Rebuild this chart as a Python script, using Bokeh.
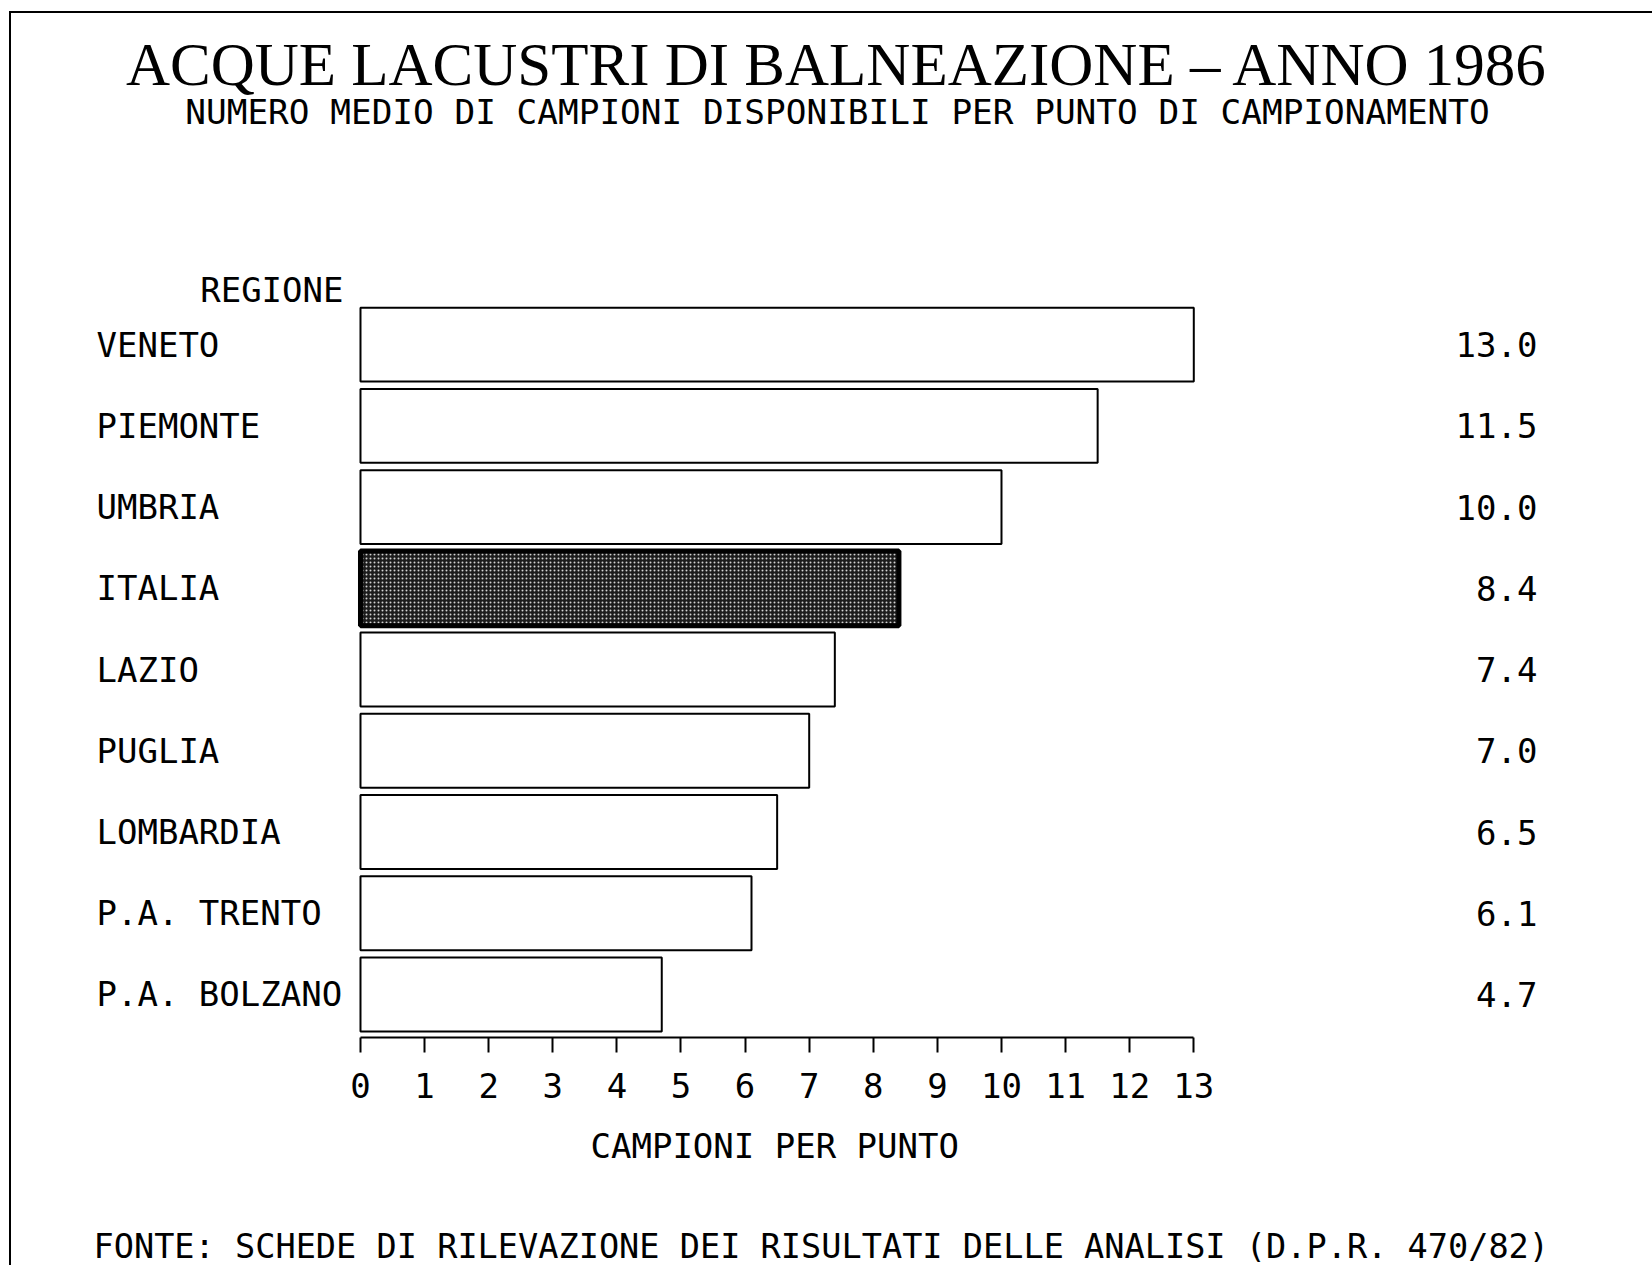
from bokeh.plotting import figure
from bokeh.models import (Range1d, FixedTicker, ColumnDataSource, Label, Title,
                          InlineStyleSheet)
from bokeh.core.properties import value
from bokeh.embed import file_html
from bokeh.resources import INLINE

# ---- data ----
regions = ["VENETO", "PIEMONTE", "UMBRIA", "ITALIA", "LAZIO", "PUGLIA",
           "LOMBARDIA", "P.A. TRENTO", "P.A. BOLZANO"]
values = [13.0, 11.5, 10.0, 8.4, 7.4, 7.0, 6.5, 6.1, 4.7]
value_labels = ["13.0", "11.5", "10.0", "8.4", "7.4", "7.0", "6.5", "6.1", "4.7"]
tick_values = list(range(0, 14))
highlight = "ITALIA"

title_text = "ACQUE LACUSTRI DI BALNEAZIONE \u2013 ANNO 1986"
subtitle_text = "NUMERO MEDIO DI CAMPIONI DISPONIBILI PER PUNTO DI CAMPIONAMENTO"
ylabel_text = "REGIONE"
xlabel_text = "CAMPIONI PER PUNTO"
source_text = "FONTE: SCHEDE DI RILEVAZIONE DEI RISULTATI DELLE ANALISI (D.P.R. 470/82)"

# ---- layout ----
W, H = 1652, 1265
FRAME_H = 1038
MONO = "DejaVu Sans Mono"
SERIF = "Liberation Serif"
FS = "34px"

pos = list(range(len(regions)))
normal = [i for i, r in enumerate(regions) if r != highlight]
hl = [i for i, r in enumerate(regions) if r == highlight]

src_norm = ColumnDataSource(dict(y=[pos[i] for i in normal], v=[values[i] for i in normal]))
src_hl = ColumnDataSource(dict(y=[pos[i] for i in hl], v=[values[i] for i in hl]))
src_lab = ColumnDataSource(dict(y=pos, name=regions, vl=value_labels))

p = figure(width=W, height=H,
           x_range=Range1d(-5.616, 20.156),
           y_range=Range1d(8.53, -4.237),
           output_backend="svg", toolbar_location=None,
           y_axis_location=None,
           min_border_left=0, min_border_right=0,
           min_border_top=0, min_border_bottom=H - FRAME_H)
p.extra_x_ranges = {"px": Range1d(0, W)}
p.extra_y_ranges = {"px": Range1d(FRAME_H, 0)}
p.outline_line_color = None
p.xgrid.visible = False
p.ygrid.visible = False
p.background_fill_color = "white"
p.border_fill_color = "white"

# bars
p.hbar(y="y", left=0, right="v", height=0.91, source=src_norm,
       fill_color="white", line_color="black", line_width=2)
p.hbar(y="y", left=0, right="v", height=0.92, source=src_hl,
       fill_color="#1c1c1c", line_color="black", line_width=5,
       hatch_pattern="dot", hatch_color="white", hatch_scale=4, hatch_weight=2.9,
       hatch_alpha=0.8)

# category labels and value labels
p.text(x=96, y="y", text="name", source=src_lab, x_range_name="px",
       text_font=value(MONO), text_font_size=FS, text_color="black",
       text_align="left", text_baseline="middle")
p.text(x=1537, y="y", text="vl", source=src_lab, x_range_name="px",
       text_font=value(MONO), text_font_size=FS, text_color="black",
       text_align="right", text_baseline="middle")

# x axis
ax = p.xaxis[0]
ax.ticker = FixedTicker(ticks=tick_values)
ax.bounds = (tick_values[0], tick_values[-1])
ax.axis_line_width = 2
ax.axis_line_color = "black"
ax.major_tick_line_width = 2
ax.major_tick_line_color = "black"
ax.major_tick_in = 0
ax.major_tick_out = 15
ax.minor_tick_line_color = None
ax.major_label_text_font = MONO
ax.major_label_text_font_size = FS
ax.major_label_text_color = "black"
ax.major_label_standoff = 20

# axis caption, a blank spacer, and the source note, stacked below the axis
p.add_layout(Title(text=xlabel_text, align="left", offset=590, standoff=47,
                   text_font=MONO, text_font_size=FS, text_font_style="normal",
                   text_color="black"), "below")
p.add_layout(Title(text="\u00a0", align="left", offset=0, standoff=32,
                   text_font=MONO, text_font_size="1px", text_font_style="normal",
                   text_color="white"), "below")
p.add_layout(Title(text=source_text, align="left", offset=93, standoff=0,
                   text_font=MONO, text_font_size="33.6px", text_font_style="normal",
                   text_color="black"), "below")

# titles and texts
p.add_layout(Label(x=837, y=64, text=title_text, x_range_name="px", y_range_name="px",
                   text_font=SERIF, text_font_size="61px", text_color="black",
                   text_align="center", text_baseline="middle"))
p.add_layout(Label(x=837, y=112, text=subtitle_text, x_range_name="px", y_range_name="px",
                   text_font=MONO, text_font_size="34.4px", text_color="black",
                   text_align="center", text_baseline="middle"))
p.add_layout(Label(x=343, y=290, text=ylabel_text, x_range_name="px", y_range_name="px",
                   text_font=MONO, text_font_size=FS, text_color="black",
                   text_align="right", text_baseline="middle"))

# page frame (top and left edges)
p.stylesheets = [InlineStyleSheet(css=(
    ":host::after { content: ''; position: absolute; left: 9px; top: 11px; "
    "right: 0px; bottom: 0px; border-left: 2px solid black; "
    "border-top: 2px solid black; pointer-events: none; }"))]

open("out.html", "w").write(file_html(p, INLINE))
